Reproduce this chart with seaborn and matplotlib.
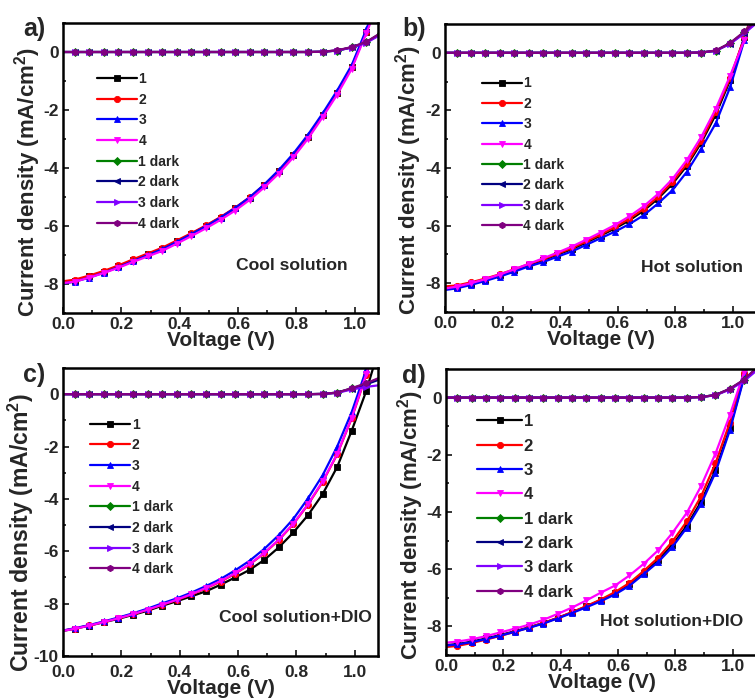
import numpy as np
import pandas as pd
import matplotlib
matplotlib.use("Agg")
import matplotlib.pyplot as plt
from matplotlib.ticker import MultipleLocator
import seaborn as sns

sns.set_theme(style="ticks")
plt.rcParams['font.family'] = ['Liberation Sans', 'DejaVu Sans']
plt.rcParams['font.weight'] = 'bold'
plt.rcParams['axes.labelweight'] = 'bold'
plt.rcParams['mathtext.default'] = 'regular'

voltage = [-0.01, 0.04, 0.09, 0.14, 0.19, 0.24, 0.29, 0.34, 0.39, 0.44, 0.49, 0.54,
           0.59, 0.64, 0.69, 0.74, 0.79, 0.84, 0.89, 0.94, 0.99, 1.04, 1.09]

labels = ["1", "2", "3", "4", "1 dark", "2 dark", "3 dark", "4 dark"]
colors = ["#000000", "#FF0000", "#0000FF", "#FF00FF", "#008000", "#000080", "#8000FF", "#800080"]
markers = ["s", "o", "^", "v", "D", "<", ">", "h"]

# Panel a: Cool solution
a_light = [
    [-7.95, -7.88, -7.74, -7.57, -7.39, -7.18, -6.98, -6.78, -6.53, -6.27, -6.00, -5.71,
     -5.39, -5.03, -4.60, -4.12, -3.56, -2.92, -2.18, -1.40, -0.50, 0.70, 2.0],
    [-7.92, -7.85, -7.71, -7.55, -7.36, -7.15, -6.95, -6.75, -6.50, -6.25, -5.98, -5.69,
     -5.37, -5.01, -4.58, -4.10, -3.55, -2.92, -2.18, -1.40, -0.52, 0.70, 2.0],
    [-8.00, -7.92, -7.78, -7.61, -7.42, -7.21, -7.01, -6.80, -6.55, -6.28, -6.01, -5.71,
     -5.38, -5.01, -4.57, -4.07, -3.50, -2.85, -2.12, -1.33, -0.45, 0.78, 2.1],
    [-7.98, -7.92, -7.78, -7.62, -7.44, -7.24, -7.05, -6.86, -6.61, -6.35, -6.08, -5.79,
     -5.47, -5.10, -4.67, -4.19, -3.63, -2.99, -2.25, -1.47, -0.58, 0.65, 1.9],
]
a_dark = [
    [0, 0, 0, 0, 0, 0, 0, 0, 0, 0, 0, 0, 0, 0, 0, 0, 0, 0, 0.01, 0.05, 0.16, 0.34, 0.65],
    [0, 0, 0, 0, 0, 0, 0, 0, 0, 0, 0, 0, 0, 0, 0, 0, 0, 0, 0.01, 0.05, 0.16, 0.33, 0.63],
    [0, 0, 0, 0, 0, 0, 0, 0, 0, 0, 0, 0, 0, 0, 0, 0, 0, 0, 0.01, 0.05, 0.15, 0.32, 0.60],
    [0, 0, 0, 0, 0, 0, 0, 0, 0, 0, 0, 0, 0, 0, 0, 0, 0, 0, 0.01, 0.06, 0.17, 0.35, 0.66],
]

# Panel b: Hot solution
b_light = [
    [-8.22, -8.14, -8.02, -7.88, -7.72, -7.55, -7.37, -7.20, -7.01, -6.82, -6.59, -6.35,
     -6.10, -5.82, -5.48, -5.06, -4.55, -3.92, -3.12, -2.15, -0.95, 0.55, 2.0],
    [-8.12, -8.08, -7.97, -7.84, -7.69, -7.52, -7.34, -7.17, -6.98, -6.78, -6.55, -6.31,
     -6.05, -5.76, -5.42, -5.00, -4.48, -3.85, -3.05, -2.05, -0.88, 0.55, 2.0],
    [-8.25, -8.18, -8.06, -7.92, -7.77, -7.60, -7.42, -7.27, -7.08, -6.90, -6.67, -6.44,
     -6.21, -5.95, -5.64, -5.23, -4.77, -4.13, -3.33, -2.45, -1.20, 0.45, 2.0],
    [-8.20, -8.12, -8.00, -7.86, -7.70, -7.52, -7.33, -7.14, -6.94, -6.73, -6.49, -6.24,
     -5.98, -5.68, -5.33, -4.90, -4.38, -3.72, -2.92, -1.95, -0.80, 0.45, 1.9],
]
b_dark = [
    [0, 0, 0, 0, 0, 0, 0, 0, 0, 0, 0, 0, 0, 0, 0, 0, 0, 0, 0.01, 0.07, 0.33, 0.72, 1.2],
    [0, 0, 0, 0, 0, 0, 0, 0, 0, 0, 0, 0, 0, 0, 0, 0, 0, 0, 0.01, 0.07, 0.32, 0.70, 1.2],
    [0, 0, 0, 0, 0, 0, 0, 0, 0, 0, 0, 0, 0, 0, 0, 0, 0, 0, 0.01, 0.07, 0.31, 0.68, 1.1],
    [0, 0, 0, 0, 0, 0, 0, 0, 0, 0, 0, 0, 0, 0, 0, 0, 0, 0, 0.01, 0.08, 0.34, 0.74, 1.2],
]

# Panel c: Cool solution + DIO
c_light = [
    [-9.06, -8.96, -8.84, -8.71, -8.58, -8.43, -8.27, -8.08, -7.91, -7.72, -7.53, -7.28,
     -7.00, -6.71, -6.33, -5.85, -5.28, -4.62, -3.82, -2.78, -1.39, 0.13, 2.0],
    [-9.05, -8.95, -8.83, -8.70, -8.55, -8.40, -8.23, -8.04, -7.86, -7.65, -7.42, -7.16,
     -6.86, -6.50, -6.08, -5.57, -4.96, -4.22, -3.36, -2.30, -0.92, 0.75, 2.5],
    [-9.05, -8.94, -8.82, -8.68, -8.53, -8.37, -8.19, -7.99, -7.80, -7.58, -7.33, -7.06,
     -6.73, -6.36, -5.91, -5.38, -4.76, -3.98, -3.10, -2.00, -0.68, 0.95, 2.6],
    [-9.06, -8.96, -8.84, -8.70, -8.56, -8.40, -8.23, -8.04, -7.85, -7.64, -7.40, -7.14,
     -6.84, -6.49, -6.06, -5.55, -4.94, -4.20, -3.33, -2.28, -0.90, 0.78, 2.5],
]
c_dark = [
    [0, 0, 0, 0, 0, 0, 0, 0, 0, 0, 0, 0, 0, 0, 0, 0, 0, 0, 0.01, 0.06, 0.22, 0.40, 0.62],
    [0, 0, 0, 0, 0, 0, 0, 0, 0, 0, 0, 0, 0, 0, 0, 0, 0, 0, 0.01, 0.06, 0.21, 0.38, 0.58],
    [0, 0, 0, 0, 0, 0, 0, 0, 0, 0, 0, 0, 0, 0, 0, 0, 0, 0, 0.01, 0.05, 0.18, 0.28, 0.35],
    [0, 0, 0, 0, 0, 0, 0, 0, 0, 0, 0, 0, 0, 0, 0, 0, 0, 0, 0.01, 0.06, 0.23, 0.42, 0.65],
]

# Panel d: Hot solution + DIO
d_light = [
    [-8.66, -8.62, -8.53, -8.42, -8.30, -8.17, -8.03, -7.88, -7.70, -7.51, -7.30, -7.08,
     -6.84, -6.53, -6.12, -5.69, -5.15, -4.48, -3.64, -2.54, -1.08, 0.75, 2.3],
    [-8.73, -8.68, -8.58, -8.46, -8.33, -8.19, -8.04, -7.88, -7.70, -7.50, -7.29, -7.06,
     -6.80, -6.48, -6.06, -5.60, -5.03, -4.33, -3.45, -2.30, -0.88, 0.85, 2.4],
    [-8.68, -8.63, -8.55, -8.44, -8.32, -8.19, -8.05, -7.90, -7.72, -7.53, -7.33, -7.12,
     -6.88, -6.58, -6.17, -5.75, -5.22, -4.55, -3.72, -2.62, -1.15, 0.70, 2.3],
    [-8.58, -8.53, -8.45, -8.34, -8.21, -8.08, -7.94, -7.77, -7.56, -7.34, -7.09, -6.82,
     -6.57, -6.22, -5.81, -5.34, -4.73, -4.03, -3.09, -1.96, -0.62, 0.90, 2.5],
]
d_dark = [
    [0, 0, 0, 0, 0, 0, 0, 0, 0, 0, 0, 0, 0, 0, 0, 0, 0, 0, 0.02, 0.09, 0.30, 0.62, 1.1],
    [0, 0, 0, 0, 0, 0, 0, 0, 0, 0, 0, 0, 0, 0, 0, 0, 0, 0, 0.02, 0.09, 0.30, 0.60, 1.1],
    [0, 0, 0, 0, 0, 0, 0, 0, 0, 0, 0, 0, 0, 0, 0, 0, 0, 0, 0.02, 0.08, 0.28, 0.58, 1.0],
    [0, 0, 0, 0, 0, 0, 0, 0, 0, 0, 0, 0, 0, 0, 0, 0, 0, 0, 0.02, 0.09, 0.31, 0.63, 1.1],
]

panel_letters = ["a)", "b)", "c)", "d)"]
panel_titles = ["Cool solution", "Hot solution", "Cool solution+DIO", "Hot solution+DIO"]

W, H = 755, 699
fig = plt.figure(figsize=(W / 100, H / 100), dpi=100)

# pixel boxes (left, right, top, bottom)
boxes = [(63, 378, 23, 313), (445, 756, 24, 312), (63, 378, 368, 656), (446, 757, 369, 655)]
ylims = [(-9, 1), (-9, 1), (-10, 1), (-9, 1)]
xlims = [(0, 1.08), (0, 1.08), (0, 1.08), (0, 1.085)]
legend_anchor = [(0.107, 0.831), (0.118, 0.818), (0.086, 0.828), (0.10, 0.842)]
legend_fs = [10, 10, 10, 12]
legend_ls = [0.48, 0.46, 0.48, 0.56]
legend_hl = [2.9, 2.9, 2.9, 2.7]
ylabel_fs = [16.0, 16.0, 16.6, 16.0]
ylabel_xy = [(-0.112, 0.452), (-0.117, 0.458), (-0.133, 0.43), (-0.114, 0.455)]
xtick_pad = [3, 3, 6.5, 3]
title_pos = [(292, 265), (692, 268), (295, 618), (672, 622)]
letter_pos = [(34, 29), (414, 29), (34, 375), (414, 376)]

data = [(a_light, a_dark), (b_light, b_dark), (c_light, c_dark), (d_light, d_dark)]

for i, ((l, r, t, b), (light, dark)) in enumerate(zip(boxes, data)):
    ax = fig.add_axes([l / W, 1 - b / H, (r - l) / W, (b - t) / H])
    series = light + dark
    for j, ys in enumerate(series):
        df = pd.DataFrame({"V": voltage, "J": ys})
        sns.lineplot(data=df, x="V", y="J", ax=ax, color=colors[j], marker=markers[j],
                     markersize=4.5, markeredgewidth=0.6, markeredgecolor=colors[j],
                     linewidth=1.6, label=labels[j], sort=False, errorbar=None)
    ax.set_xlim(*xlims[i])
    ax.set_ylim(*ylims[i])
    ax.xaxis.set_major_locator(MultipleLocator(0.2))
    ax.xaxis.set_minor_locator(MultipleLocator(0.1))
    ax.yaxis.set_major_locator(MultipleLocator(2))
    ax.yaxis.set_minor_locator(MultipleLocator(1))
    ax.xaxis.set_major_formatter(matplotlib.ticker.FormatStrFormatter("%.1f"))
    ax.yaxis.set_major_formatter(matplotlib.ticker.FormatStrFormatter("%d"))
    ax.tick_params(which="both", direction="in", top=False, right=False,
                   labelsize=12.5, width=1.3)
    ax.tick_params(which="major", length=4)
    ax.tick_params(axis="y", which="major", pad=3)
    ax.tick_params(axis="x", which="major", pad=xtick_pad[i])
    ax.tick_params(which="minor", length=2.5)
    for lab in ax.get_xticklabels() + ax.get_yticklabels():
        lab.set_fontweight("bold")
    for sp in ax.spines.values():
        sp.set_visible(True)
        sp.set_linewidth(1.8)
        sp.set_color("black")
    ax.set_xlabel("Voltage (V)", fontsize=15, fontweight="bold", labelpad=-1)
    ax.set_ylabel("Current density (mA/cm$^2$)", fontsize=ylabel_fs[i],
                  fontweight="bold", va="center")
    ax.yaxis.set_label_coords(*ylabel_xy[i])
    leg = ax.legend(loc="upper left", bbox_to_anchor=legend_anchor[i], frameon=False,
                    borderaxespad=0, borderpad=0, handlelength=legend_hl[i], handletextpad=0.1,
                    labelspacing=legend_ls[i], prop={"weight": "bold", "size": legend_fs[i]})
    tx, ty = title_pos[i]
    fig.text(tx / W, 1 - ty / H, panel_titles[i], ha="center", va="center",
             fontsize=12.6, fontweight="bold")
    lx, ly = letter_pos[i]
    fig.text(lx / W, 1 - ly / H, panel_letters[i], ha="center", va="center",
             fontsize=18, fontweight="bold")

fig.savefig("out.png", dpi=100)
